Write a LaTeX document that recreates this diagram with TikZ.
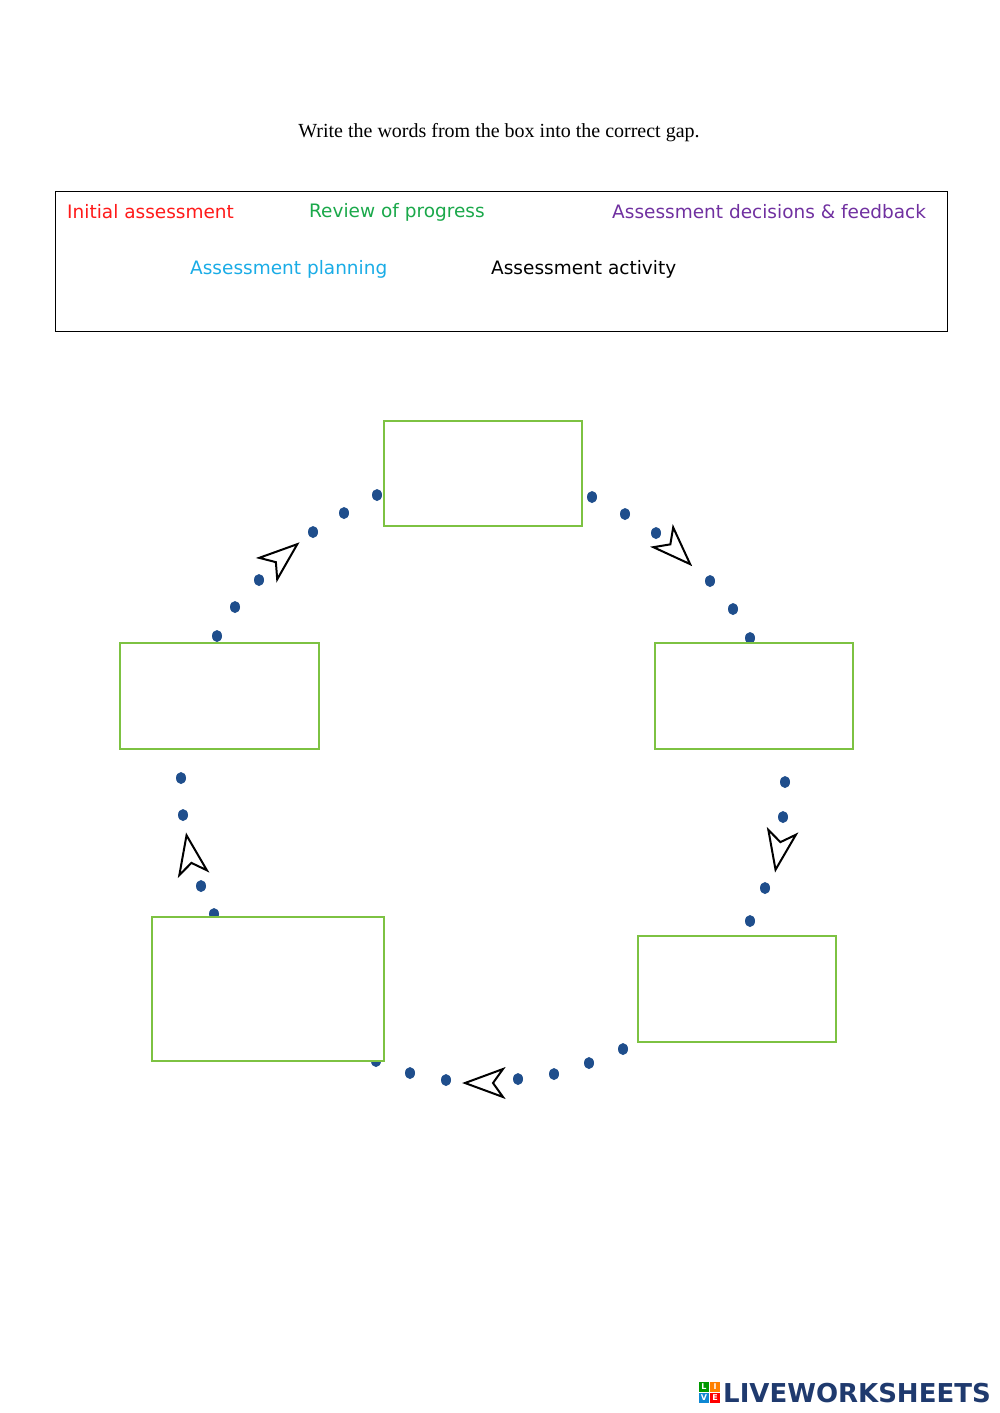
\documentclass[tikz,border=0pt]{standalone}
\usepackage{fontspec}
\setmainfont{Liberation Serif}
\newfontfamily\comic{DejaVu Sans}
\newfontfamily\logof{DejaVu Sans}
\definecolor{gbox}{HTML}{7DC242}
\definecolor{dotc}{HTML}{1F4E8C}
\definecolor{wred}{HTML}{FF1A1A}
\definecolor{wgreen}{HTML}{1AA84A}
\definecolor{wpurple}{HTML}{7030A0}
\definecolor{wcyan}{HTML}{1AACE6}
\definecolor{logoblue}{HTML}{1F3A6E}
\tikzset{
  gapbox/.style={draw=gbox,line width=1.8pt},
  wordtxt/.style={anchor=west,inner sep=0pt,font=\comic\fontsize{18.5}{20}\selectfont},
  dotm/.style={fill=dotc,draw=none},
  navarrow/.pic={\draw[line width=2pt,line join=miter,fill=white] (20,0) -- (-18,14) -- (-8,0) -- (-18,-14) -- cycle;},
  sq/.style={draw=none,minimum size=10pt,inner sep=0pt,font=\logof\bfseries\fontsize{8}{8}\selectfont,text=white}
}
\begin{document}
\begin{tikzpicture}[x=1pt,y=-1pt]
\useasboundingbox (0,0) rectangle (1000,1413);
\node[font=\fontsize{20}{22}\selectfont] (title) at (499,133) {Write the words from the box into the correct gap.};
\node[draw,line width=0.9pt,minimum width=892pt,minimum height=140pt,inner sep=0pt,anchor=north west] (wbox) at (55,191) {};
\node[wordtxt,text=wred] (w1) at (67,212) {Initial assessment};
\node[wordtxt,text=wgreen] (w2) at (309,212) {Review of progress};
\node[wordtxt,text=wpurple] (w3) at (612,212) {Assessment decisions \& feedback};
\node[wordtxt,text=wcyan] (w4) at (190,269) {Assessment planning};
\node[wordtxt,text=black] (w5) at (491,269) {Assessment activity};
% dots
\foreach \x/\y in {377/495,344/513,313/532,259/580,235/607,217/636,
  592/497,625/514,656/533,710/581,733/609,750/638,
  785/782,783/817,765/888,750/921,
  623/1049,589/1063,554/1074,518/1079,446/1080,410/1073,376/1061,
  181/778,183/815,201/886,214/914}
  \fill[dotm] (\x,\y) ellipse (5 and 6);
% boxes
\node[gapbox,fill=white,minimum width=198pt,minimum height=105pt,anchor=north west] (btop) at (383,420) {};
\node[gapbox,fill=white,minimum width=199pt,minimum height=106pt,anchor=north west] (bleft) at (119,642) {};
\node[gapbox,fill=white,minimum width=198pt,minimum height=106pt,anchor=north west] (bright) at (654,642) {};
\node[gapbox,fill=white,minimum width=232pt,minimum height=144pt,anchor=north west] (bbl) at (151,916) {};
\node[gapbox,fill=white,minimum width=198pt,minimum height=106pt,anchor=north west] (bbr) at (637,935) {};
% arrowheads
\pic[rotate=40] at (282,557) {navarrow};
\pic[rotate=-45] at (676,550) {navarrow};
\pic[rotate=-100] at (779,850) {navarrow};
\pic[rotate=180] at (485,1083) {navarrow};
\pic[rotate=100] at (190,855) {navarrow};
% logo
\node[sq,fill=green!60!black] (l1) at (704,1387) {L};
\node[sq,fill=orange] (l2) at (715,1387) {I};
\node[sq,fill=cyan!70!blue] (l3) at (704,1398) {V};
\node[sq,fill=red] (l4) at (715,1398) {E};
\node[anchor=west,inner sep=0pt,text=logoblue,font=\logof\bfseries\fontsize{26}{28}\selectfont] (logo) at (723,1393) {LIVEWORKSHEETS};
\end{tikzpicture}
\end{document}
